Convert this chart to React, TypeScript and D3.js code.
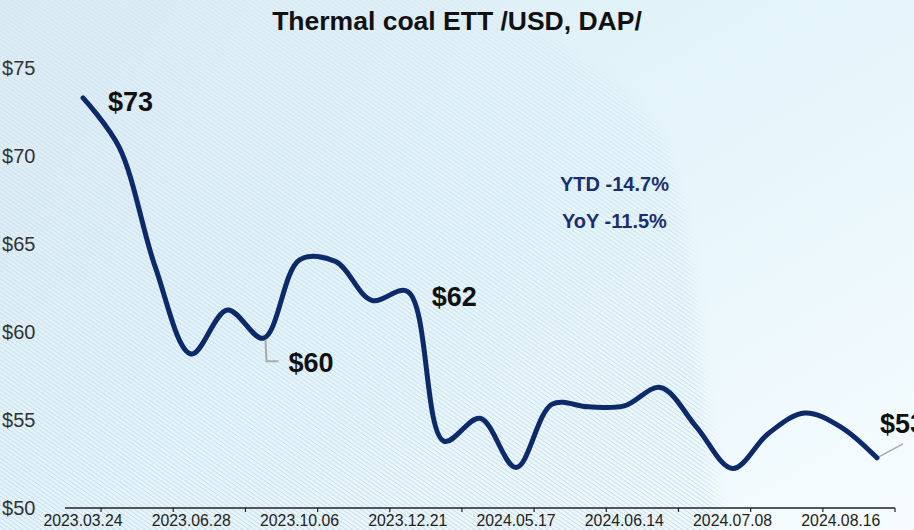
import React, { useEffect } from "react";
import * as d3 from "d3";

// weekly-ish price points (USD/t)
const prices = [
  73.3, 70.5, 63.7, 58.75, 61.25, 59.65, 64.1, 64.0, 61.8, 62.3, 53.8, 55.1,
  52.3, 55.9, 55.75, 55.8, 56.85, 54.6, 52.25, 54.25, 55.4, 54.6, 52.85,
];
// labels shown every third point
const tickLabels = [
  "2023.03.24", "2023.06.28", "2023.10.06", "2023.12.21",
  "2024.05.17", "2024.06.14", "2024.07.08", "2024.08.16",
];
const yTicks = [50, 55, 60, 65, 70, 75];
// annotated points: index, text
const callouts = [
  { i: 0, text: "$73" },
  { i: 5, text: "$60" },
  { i: 9, text: "$62" },
  { i: 22, text: "$53" },
];
const stats = ["YTD -14.7%", "YoY -11.5%"];

const W = 914;
const H = 530;

export default function App() {
  useEffect(() => {
    document.body.style.margin = "0";
  }, []);

  const idx = prices.map((_, i) => i);
  const x = d3.scaleBand<number>().domain(idx).range([65, 895]).padding(0);
  const bw = x.bandwidth();
  const cx = (i: number) => (x(i) as number) + bw / 2;
  const y = d3.scaleLinear().domain([50, 75]).range([508, 68]);

  const line = d3
    .line<number>()
    .x((_, i) => cx(i))
    .y((d) => y(d))
    .curve(d3.curveCatmullRom.alpha(0.5));

  // offsets for the callout texts (relative to their point)
  const calloutPos: Record<number, [number, number]> = {
    0: [25, 13],
    5: [25, 34],
    9: [24, 14],
    22: [3, -25],
  };

  return (
    <svg width={W} height={H} style={{ display: "block" }} fontFamily="'Liberation Sans', Arial, sans-serif">
      <defs>
        <linearGradient id="bg" x1="0" y1="0" x2="1" y2="1">
          <stop offset="0" stopColor="#dbeaf4" />
          <stop offset="0.5" stopColor="#e5f5fb" />
          <stop offset="1" stopColor="#f6fcfe" />
        </linearGradient>
        <pattern id="hatch" patternUnits="userSpaceOnUse" width="8" height="3.5" patternTransform="rotate(35)">
          <line x1="0" y1="0.5" x2="8" y2="0.5" stroke="#c6dcea" strokeWidth="1" />
        </pattern>
        <linearGradient id="fade" x1="0" y1="0" x2="0" y2="1">
          <stop offset="0" stopColor="#fff" stopOpacity="0.25" />
          <stop offset="0.45" stopColor="#fff" stopOpacity="0.75" />
          <stop offset="1" stopColor="#fff" stopOpacity="1" />
        </linearGradient>
        <filter id="soft" x="-10%" y="-10%" width="120%" height="120%">
          <feGaussianBlur stdDeviation="7" />
        </filter>
        <mask id="hatchMask">
          <path
            d="M-20,-20 L440,-20 C530,20 615,70 662,140 C682,190 690,260 702,375 L722,560 L-20,560 Z"
            fill="url(#fade)"
            filter="url(#soft)"
          />
        </mask>
      </defs>

      <rect width={W} height={H} fill="url(#bg)" />
      <rect width={W} height={H} fill="url(#hatch)" mask="url(#hatchMask)" />

      <text x={457} y={30} textAnchor="middle" fontSize={26.5} fontWeight="bold" fill="#111">
        Thermal coal ETT /USD, DAP/
      </text>

      {yTicks.map((t) => (
        <text key={t} x={2} y={y(t)} dy="0.36em" fontSize={20} fill="#333">
          ${t}
        </text>
      ))}

      <line x1={65} x2={895} y1={508} y2={508} stroke="#222" strokeWidth={1.5} />
      {idx
        .filter((i) => i % 2 === 0)
        .map((i) => (
          <line key={i} x1={(x(i) as number) + bw} x2={(x(i) as number) + bw} y1={508} y2={512} stroke="#222" strokeWidth={1.2} />
        ))}
      {tickLabels.map((lab, k) => (
        <text key={lab} x={cx(k * 3)} y={526} textAnchor="middle" fontSize={15.8} fill="#222">
          {lab}
        </text>
      ))}

      {stats.map((s, k) => (
        <text key={s} x={560 + k * 2} y={191 + k * 37} fontSize={20} fontWeight="bold" fill="#1b2f6e">
          {s}
        </text>
      ))}

      {/* leader lines */}
      <polyline
        points={`${cx(5) + 2},${y(prices[5]) + 2} ${cx(5) + 3},${y(prices[5]) + 23} ${cx(5) + 15},${y(prices[5]) + 23}`}
        fill="none"
        stroke="#aaa"
        strokeWidth={2}
      />
      <line x1={cx(22)} y1={y(prices[22])} x2={cx(22) + 26} y2={y(prices[22]) - 14} stroke="#aaa" strokeWidth={1.5} />

      <path d={line(prices) || ""} fill="none" stroke="#0c2a6a" strokeWidth={5} strokeLinecap="round" strokeLinejoin="round" />

      {callouts.map((c) => {
        const [dx, dy] = calloutPos[c.i];
        return (
          <text key={c.i} x={cx(c.i) + dx} y={y(prices[c.i]) + dy} fontSize={27} fontWeight="bold" fill="#111">
            {c.text}
          </text>
        );
      })}
    </svg>
  );
}
